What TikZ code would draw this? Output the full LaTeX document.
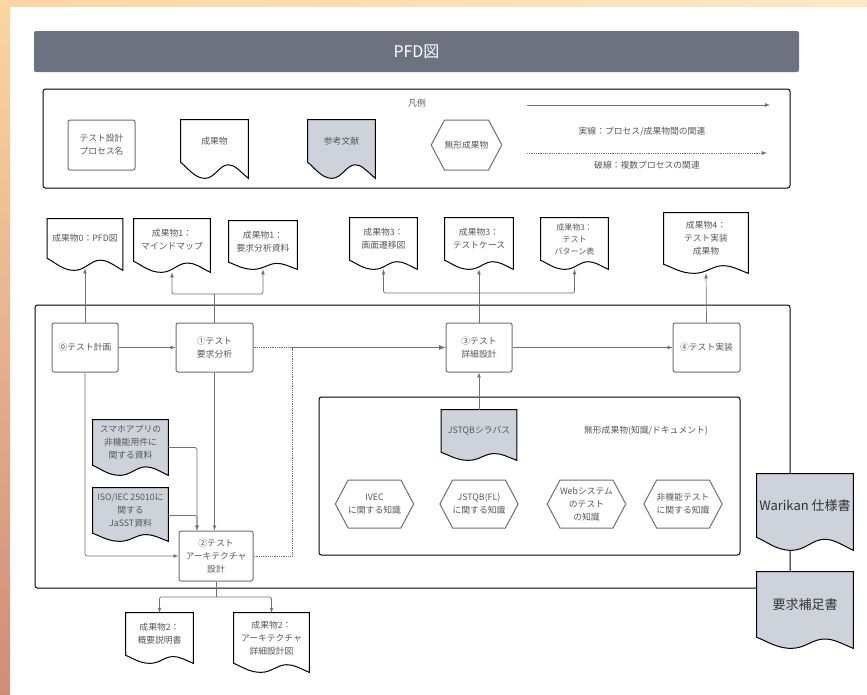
\documentclass[tikz,border=0pt]{standalone}
\usepackage{fontspec}
\setmainfont{Noto Sans CJK JP}
\usetikzlibrary{backgrounds}
\usetikzlibrary{arrows}
\usetikzlibrary{calc}
\usetikzlibrary{shapes.symbols}
\definecolor{lgray}{HTML}{707070}
\definecolor{tgray}{HTML}{585858}
\definecolor{rgray}{HTML}{CDD2DB}
\definecolor{bgray}{HTML}{6C7280}
\definecolor{orA}{HTML}{FCD6A0}
\definecolor{orB}{HTML}{D08C78}
\definecolor{orC}{HTML}{FDE8C6}
\tikzstyle{pfd}=[x=1pt, y=-1pt, lgray, text=tgray, font=\fontsize{8.8}{13}\selectfont, line width=0.7pt]
\tikzstyle{proc}=[rectangle, draw, rounded corners=2pt, line width=1pt, fill=white, align=center, inner sep=1pt]
\tikzstyle{doc}=[rectangle, align=center, inner sep=1pt]
\tikzstyle{hexa}=[signal, signal to=west and east, signal pointer angle=124, draw, line width=1pt, fill=white, align=center, inner sep=0pt]
\tikzstyle{edge}=[->, -latex, rounded corners=2pt, line width=0.7pt]
\tikzstyle{rel}=[densely dotted, line width=0.8pt]
\tikzstyle{frame}=[draw, rounded corners=2.5pt, line width=1pt]
\tikzstyle{big}=[font=\fontsize{13}{16}\selectfont, text=black!80]
% outline of a document node: fill, node, wave depth
\newcommand{\docline}[3]{%
  \draw[line width=1pt, fill=#1] let \p1=(#2.north west), \p2=(#2.south east), \n1={\x2-\x1} in
    (\x1,\y1) -- (\x2,\y1) -- (\x2,{\y2-#3})
    .. controls ({\x1+0.86*\n1},{\y2-0.5*#3}) and ({\x1+0.8*\n1},{\y2-0.15*#3}) .. ({\x1+0.7*\n1},{\y2-0.15*#3})
    .. controls ({\x1+0.58*\n1},{\y2-0.15*#3}) and ({\x1+0.5*\n1},{\y2-1.0*#3}) .. ({\x1+0.36*\n1},{\y2-1.0*#3})
    .. controls ({\x1+0.2*\n1},{\y2-1.0*#3}) and ({\x1+0.1*\n1},{\y2-0.3*#3}) .. (\x1,\y2) -- cycle;}
\begin{document}
\begin{tikzpicture}[pfd]
	\useasboundingbox (0,0) rectangle (867,694);
	\draw (416.5,51.5) node[fill=bgray, rounded corners=2pt, minimum width=765pt, minimum height=41pt, text=white, font=\fontsize{16}{18}\selectfont] (ttl) {PFD図};
	%
	\draw (417,103) node (lgd) {凡例};
	\draw (101.5,145) node[proc, minimum width=67pt, minimum height=50pt] (lproc) {テスト設計\\プロセス名};
	\draw (214.5,141) node[doc, minimum width=67pt, minimum height=42pt] (ldoc) {成果物};
	\draw (341.5,141) node[doc, minimum width=67pt, minimum height=42pt] (lref) {参考文献};
	\draw (466.5,145) node[hexa, minimum width=67pt, minimum height=50pt] (lhex) {無形成果物};
	\coordinate (la1) at (527,105);
	\coordinate (la2) at (770,105);
	\coordinate (lb1) at (527,153);
	\coordinate (lb2) at (767,153);
	\draw[edge] (la1) -- (la2);
	\draw[rel, -latex] (lb1) -- (lb2);
	\draw (642,132) node (lt1) {実線：プロセス/成果物間の関連};
	\draw (647,165) node (lt2) {破線：複数プロセスの関連};
	%
	\draw (85,347.5) node[proc, minimum width=66pt, minimum height=49pt] (p0) {⓪テスト計画};
	\draw (214.5,347.5) node[proc, minimum width=77pt, minimum height=49pt] (p1) {①テスト\\要求分析};
	\draw (216,556) node[proc, minimum width=74pt, minimum height=50pt] (p2) {②テスト\\アーキテクチャ\\設計};
	\draw (479,347.5) node[proc, minimum width=66pt, minimum height=49pt] (p3) {③テスト\\詳細設計};
	\draw (706.5,347.5) node[proc, minimum width=67pt, minimum height=49pt] (p4) {④テスト実装};
	%
	\draw (85,238.5) node[doc, minimum width=75pt, minimum height=39pt] (d0) {成果物0：PFD図};
	\draw (172,240) node[doc, minimum width=76pt, minimum height=42pt] (d1a) {成果物1：\\マインドマップ};
	\draw (263,241.5) node[doc, minimum width=68pt, minimum height=41pt] (d1b) {成果物1：\\要求分析資料};
	\draw (383.5,239) node[doc, minimum width=67pt, minimum height=42pt] (d3a) {成果物3：\\画面遷移図};
	\draw (479,239) node[doc, minimum width=68pt, minimum height=42pt] (d3b) {成果物3：\\テストケース};
	\draw (574.5,239) node[doc, minimum width=67pt, minimum height=42pt, font=\fontsize{8}{12}\selectfont] (d3c) {成果物3：\\テスト\\パターン表};
	\draw (706,238.5) node[doc, minimum width=84pt, minimum height=51pt] (d4) {成果物4：\\テスト実装\\成果物};
	\draw (159.5,634) node[doc, minimum width=67pt, minimum height=42pt] (d2a) {成果物2：\\概要説明書};
	\draw (271.5,638) node[doc, minimum width=75pt, minimum height=50pt] (d2b) {成果物2：\\アーキテクチャ\\詳細設計図};
	%
	\draw (130.5,442.5) node[doc, minimum width=75pt, minimum height=45pt] (r1) {スマホアプリの\\非機能用件に\\関する資料};
	\draw (130.5,510.5) node[doc, minimum width=75pt, minimum height=45pt] (r2) {ISO/IEC 25010に\\関する\\JaSST資料};
	\draw (479,431) node[doc, minimum width=75pt, minimum height=42pt] (jst) {JSTQBシラバス};
	\draw (805,505.5) node[doc, big, minimum width=96pt, minimum height=63pt] (wari) {Warikan 仕様書};
	\draw (805,604.5) node[doc, big, minimum width=96pt, minimum height=65pt] (yoq) {要求補足書};
	%
	\draw (646,431) node (mlbl) {無形成果物(知識/ドキュメント)};
	\draw (374.5,504) node[hexa, minimum width=63pt, minimum height=48pt] (h1) {IVEC\\に関する知識};
	\draw (479,504) node[hexa, minimum width=68pt, minimum height=48pt] (h2) {JSTQB(FL)\\に関する知識};
	\draw (586.5,504) node[hexa, minimum width=73pt, minimum height=48pt] (h3) {Webシステム\\のテスト\\の知識};
	\draw (683,504) node[hexa, minimum width=70pt, minimum height=48pt] (h4) {非機能テスト\\に関する知識};
	%
	\coordinate (b1) at (214.5,294);
	\coordinate (b3) at (479,293);
	\coordinate (b2) at (216,597);
	\coordinate (j) at (292,347.5);
	%
	\draw[edge] (p0.north) -- ([yshift=-10pt]d0.south);
	\draw (p1.north) -- (b1);
	\draw[edge] (b1) -| ([yshift=-11pt]d1a.south);
	\draw[edge] (b1) -| ([yshift=-7pt]d1b.south);
	\draw[edge] (p3.north) -- ([yshift=-9pt]d3b.south);
	\draw[edge] (b3) -| ([yshift=-9pt]d3a.south);
	\draw[edge] (b3) -| ([yshift=-9pt]d3c.south);
	\draw[edge] (p4.north) -- ([yshift=-9pt]d4.south);
	\draw[edge] (p0) -- (p1);
	\draw[rel] (p1.east) -- (j) |- (p2.east);
	\draw[edge, line width=1.2pt] (j) -- (p3.west);
	\draw[edge] (p3) -- (p4);
	\draw[edge] (p0.south) |- (p2.west);
	\draw[edge] (p1.south) -- (p1.south |- p2.north);
	\draw[edge] ([yshift=-5pt]r1.east) -| ([xshift=-19pt]p2.north);
	\draw[edge] ([yshift=-5pt]r2.east) -| ([xshift=-19pt]p2.north);
	\draw[edge] (jst.north) -- (p3.south);
	\draw (p2.south) -- (b2);
	\draw[edge] (b2) -| (d2a.north);
	\draw[edge] (b2) -| (d2b.north);
	%
	\begin{scope}[on background layer]
	\fill[white] (0,0) rectangle (867,694);
	\shade[left color=orA, right color=orC] (0,0) rectangle (867,6);
	\shade[top color=orA, bottom color=orB] (0,0) rectangle (10,694);
	\draw[frame] (43,89) rectangle (790,188);
	\draw[frame] (35,305) rectangle (790,588);
	\draw[frame] (319,397) rectangle (740,555);
	\foreach \d/\a in {ldoc/16,d0/12,d1a/11,d1b/7,d3a/9,d3b/9,d3c/9,d4/9,d2a/8,d2b/9}
		\docline{white}{\d}{\a};
	\foreach \d/\a in {lref/16,r1/10,r2/8,jst/8,wari/13,yoq/11}
		\docline{rgray}{\d}{\a};
	\end{scope}
\end{tikzpicture}
\end{document}
